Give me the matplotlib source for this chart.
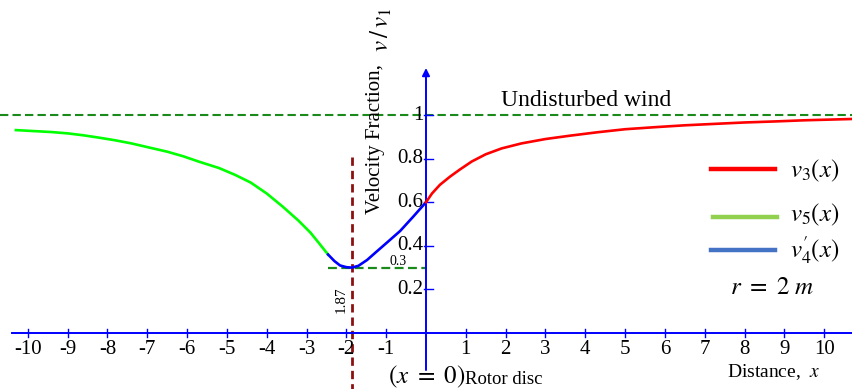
import numpy as np
import matplotlib as mpl
mpl.use('Agg')
import matplotlib.pyplot as plt

plt.rcParams['font.family'] = ['Liberation Serif', 'DejaVu Serif']
plt.rcParams['mathtext.fontset'] = 'stix'

# v5(x): upstream branch (green)
green_x = [-10.3, -9.9, -9.4, -9.0, -8.6, -8.2, -7.8, -7.4, -7.0, -6.5, -6.1,
           -5.7, -5.2, -4.8, -4.4, -4.0, -3.6, -3.2, -2.9, -2.7, -2.46]
green_v = [0.931, 0.927, 0.922, 0.916, 0.907, 0.896, 0.884, 0.870, 0.853, 0.832,
           0.811, 0.786, 0.757, 0.726, 0.690, 0.640, 0.580, 0.515, 0.460, 0.415,
           0.360]

# v4'(x): near the rotor (blue)
blue_x = [-2.46, -2.3, -2.16, -2.0, -1.87, -1.7, -1.48, -1.25, -0.98, -0.65,
          -0.33, 0.0]
blue_v = [0.360, 0.330, 0.310, 0.302, 0.300, 0.308, 0.335, 0.372, 0.415, 0.468,
          0.532, 0.600]

# v3(x): downstream recovery (red)
red_x = [0.0, 0.15, 0.35, 0.6, 0.85, 1.15, 1.5, 1.9, 2.4, 3.0, 3.6, 4.3, 5.0,
         5.8, 6.5, 7.3, 8.0, 8.8, 9.5, 10.1, 10.7]
red_v = [0.600, 0.640, 0.680, 0.717, 0.750, 0.787, 0.820, 0.847, 0.870, 0.890,
         0.905, 0.921, 0.935, 0.945, 0.953, 0.960, 0.966, 0.971, 0.976, 0.979,
         0.982]

x_ticks = list(range(-10, 0)) + list(range(1, 11))
y_ticks = [0.2, 0.4, 0.6, 0.8, 1.0]
y_tick_labels = ['0.2', '0.4', '0.6', '0.8', '1']

v_min_x = -1.87
v_min = 0.3

fig = plt.figure(figsize=(8.52, 3.89), dpi=100)
ax = fig.add_axes([0, 0, 1, 1])
ax.set_xlim(-10.70, 10.70)
ax.set_ylim(-0.257, 1.528)
ax.axis('off')

# axes drawn by hand, crossing at the origin
ax.plot([-10.40, 10.70], [0, 0], color='blue', lw=1.4, zorder=2)
ax.annotate('', xy=(0, 1.216), xytext=(0, -0.17),
            arrowprops=dict(arrowstyle='-|>', color='blue', lw=1.4,
                            mutation_scale=11, shrinkA=0, shrinkB=0))
for t in x_ticks:
    ax.plot([t, t], [-0.018, 0.018], color='blue', lw=1.0)
    ax.text(t, -0.077, str(t), ha='center', va='center', fontsize=15)
for t, lab in zip(y_ticks, y_tick_labels):
    ax.plot([-0.05, 0.17], [t, t], color='blue', lw=1.0)
    ax.text(-0.06, t, lab, ha='right', va='center', fontsize=15)

# reference lines
ax.plot([-10.70, 10.70], [1, 1], color='#1a8a1a', lw=1.5,
        linestyle=(0, (4, 2)), zorder=1)
ax.plot([green_x[-1], 0], [v_min, v_min], color='#1a8a1a', lw=1.6,
        linestyle=(0, (4, 2)), zorder=1)
ax.plot([v_min_x, v_min_x], [0.807, -0.26], color='#8b1010', lw=2.0,
        linestyle=(0, (3, 1.8)), zorder=1)

# velocity curves
ax.plot(green_x, green_v, color='#00ff00', lw=1.9, zorder=3)
ax.plot(blue_x, blue_v, color='#0000ff', lw=1.9, zorder=3)
ax.plot(red_x, red_v, color='#ff0000', lw=1.9, zorder=3)

# annotations
ax.text(4.02, 1.069, 'Undisturbed wind', ha='center', va='center', fontsize=17)
ax.text(-1.256, 0.89, 'Velocity Fraction,', rotation=90,
        ha='center', va='center', fontsize=15)
ax.text(-1.13, 1.39, r'$v\,/\,v_1$', rotation=90,
        ha='center', va='center', fontsize=18)
ax.text(-0.70, 0.33, '0.3', ha='center', va='center', fontsize=10)
ax.text(-2.14, 0.151, '1.87', rotation=90, ha='center', va='center', fontsize=11)
ax.text(0.98, -0.232, r'$(x\ =\ 0)$', ha='right', va='baseline', fontsize=18)
ax.text(0.98, -0.232, 'Rotor disc', ha='left', va='baseline', fontsize=13.5)
ax.text(7.56, -0.202, r'Distance,  $x$', ha='left', va='baseline', fontsize=14)

# legend
ax.plot([7.15, 8.76], [0.752, 0.752], color='#ff0000', lw=3.2)
ax.plot([7.20, 8.81], [0.532, 0.532], color='#92d050', lw=3.2)
ax.plot([7.15, 8.76], [0.381, 0.381], color='#4472c4', lw=3.2)
ax.text(9.15, 0.743, r'$v_3(x)$', ha='left', va='center', fontsize=18)
ax.text(9.15, 0.541, r'$v_5(x)$', ha='left', va='center', fontsize=18)
ax.text(9.15, 0.381, r"$v_4'(x)$", ha='left', va='center', fontsize=18)
ax.text(8.69, 0.206, r'$r\ =\ 2\ m$', ha='center', va='center', fontsize=18)

fig.savefig('out.png', dpi=100)
